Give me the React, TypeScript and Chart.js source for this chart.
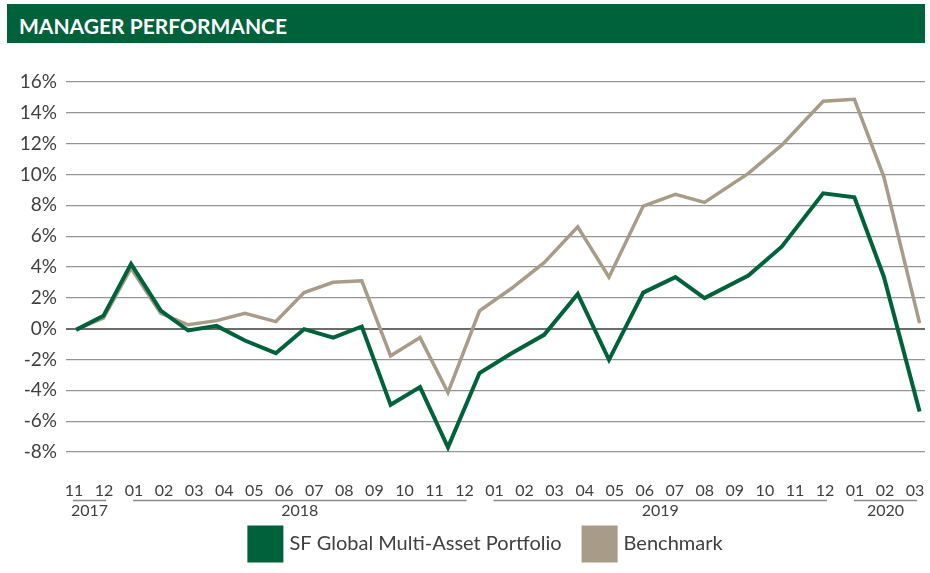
import React, { useEffect, useRef } from "react";
import { Chart, registerables } from "chart.js";

Chart.register(...registerables);

// ---- data ----
const monthLabels = [
  "11", "12",
  "01", "02", "03", "04", "05", "06", "07", "08", "09", "10", "11", "12",
  "01", "02", "03", "04", "05", "06", "07", "08", "09", "10", "11", "12",
  "01", "02", "03",
];
const yearLabels = ["2017", "2018", "2019", "2020"];
const yearFirstMonth = [0, 2, 14, 26];
const yearLastMonth = [1, 13, 25, 28];

// position of each observation on the month axis (0 = Nov 2017)
const pointMonths = [
  0.07, 0.98, 1.9, 2.89, 3.8, 4.75, 5.69, 6.72, 7.66, 8.63, 9.58, 10.54, 11.52, 12.45,
  13.5, 14.57, 15.65, 16.77, 17.81, 18.95, 20.02, 20.99, 22.45, 23.56, 24.94, 25.98, 26.96, 28.15,
];
const portfolio = [
  -0.08, 0.83, 4.2, 1.17, -0.12, 0.18, -0.77, -1.59, -0.03, -0.58, 0.14, -4.94, -3.79, -7.7,
  -2.88, -1.59, -0.4, 2.25, -2.02, 2.34, 3.34, 1.98, 3.44, 5.32, 8.78, 8.52, 3.37, -5.37,
];
const benchmark = [
  -0.05, 0.68, 3.92, 1.0, 0.25, 0.52, 1.0, 0.46, 2.34, 3.01, 3.1, -1.76, -0.58, -4.14,
  1.15, 2.62, 4.28, 6.61, 3.34, 7.95, 8.71, 8.19, 10.07, 11.9, 14.75, 14.88, 9.85, 0.36,
];
const seriesNames = ["SF Global Multi-Asset Portfolio", "Benchmark"];
const yMin = -8;
const yMax = 16;
const yStep = 2;
const chartTitle = "MANAGER PERFORMANCE";

// ---- styles ----
const GREEN = "#00623A";
const BEIGE = "#A89B87";
const TEXT = "#404040";
const GRID = "#959595";
const ZERO = "#6c6c6c";
const FONT = "Lato, 'Open Sans', sans-serif";

const decorPlugin = {
  id: "decor",
  afterDraw(chart: any) {
    const { ctx, chartArea } = chart;
    const x = chart.scales.x;
    const b = chartArea.bottom;
    ctx.save();
    ctx.fillStyle = TEXT;
    ctx.textAlign = "center";
    ctx.textBaseline = "middle";
    ctx.font = `16px ${FONT}`;
    monthLabels.forEach((m, i) => ctx.fillText(m, x.getPixelForValue(i), b + 39));
    // year groups
    ctx.strokeStyle = "#8a8a8a";
    ctx.lineWidth = 1.5;
    yearLabels.forEach((yl, k) => {
      const x0 = x.getPixelForValue(yearFirstMonth[k]) - 1;
      const x1 = x.getPixelForValue(yearLastMonth[k]) + 2;
      ctx.beginPath();
      ctx.moveTo(x0, b + 48.5);
      ctx.lineTo(x1, b + 48.5);
      ctx.stroke();
      ctx.fillText(yl, (x0 + x1) / 2, b + 59);
    });
    // legend
    ctx.font = `20px ${FONT}`;
    const boxW = 36;
    const boxH = 37;
    const gapText = 6;
    const gapItem = 20;
    const widths = chart.data.datasets.map((d: any) => ctx.measureText(d.label).width);
    let total = 0;
    widths.forEach((w: number, i: number) => {
      total += boxW + gapText + w + (i > 0 ? gapItem : 0);
    });
    let cx = 485 - total / 2;
    const cy = b + 92;
    ctx.textAlign = "left";
    chart.data.datasets.forEach((d: any, i: number) => {
      ctx.fillStyle = d.borderColor;
      ctx.fillRect(cx, cy - boxH / 2, boxW, boxH);
      ctx.fillStyle = TEXT;
      ctx.fillText(d.label, cx + boxW + gapText, cy);
      cx += boxW + gapText + widths[i] + gapItem;
    });
    ctx.restore();
  },
};

export default function App() {
  const ref = useRef<HTMLCanvasElement | null>(null);

  useEffect(() => {
    if (!ref.current) return;
    const chart = new Chart(ref.current, {
      type: "line",
      data: {
        datasets: [
          {
            label: seriesNames[0],
            data: pointMonths.map((m, i) => ({ x: m, y: portfolio[i] })),
            borderColor: GREEN,
            backgroundColor: GREEN,
            borderWidth: 4,
            pointRadius: 0,
            tension: 0,
            fill: false,
            borderJoinStyle: "miter",
          },
          {
            label: seriesNames[1],
            data: pointMonths.map((m, i) => ({ x: m, y: benchmark[i] })),
            borderColor: BEIGE,
            backgroundColor: BEIGE,
            borderWidth: 3.5,
            pointRadius: 0,
            tension: 0,
            fill: false,
            borderJoinStyle: "miter",
          },
        ],
      },
      options: {
        animation: false,
        responsive: false,
        devicePixelRatio: 1,
        layout: { padding: { left: 0, right: 5, top: 82, bottom: 121 } },
        plugins: {
          legend: { display: false },
          tooltip: { enabled: false },
        },
        scales: {
          x: {
            type: "linear",
            display: false,
            min: -0.266,
            max: 28.33,
          },
          y: {
            min: yMin,
            max: yMax,
            ticks: {
              stepSize: yStep,
              callback: (v: any) => `${v}%`,
              color: TEXT,
              font: { family: FONT, size: 19 },
              padding: 9,
            },
            grid: {
              drawTicks: false,
              color: (c: any) => (c.tick && c.tick.value === 0 ? ZERO : GRID),
              lineWidth: (c: any) => (c.tick && c.tick.value === 0 ? 2 : 1.3),
            },
            border: { display: false },
            afterFit: (s: any) => {
              s.width = 66;
            },
          },
        },
      },
      plugins: [decorPlugin],
    } as any);
    return () => chart.destroy();
  }, []);

  return (
    <>
      <canvas
        ref={ref}
        width={930}
        height={573}
        style={{ position: "absolute", left: 0, top: 0, width: 930, height: 573 }}
      />
      <div
        style={{
          position: "absolute",
          left: 7,
          top: 4,
          width: 918,
          height: 39,
          overflow: "hidden",
          background: GREEN,
          color: "#ffffff",
          fontFamily: FONT,
          fontWeight: 700,
          fontSize: 21,
          lineHeight: "44px",
          paddingLeft: 12,
          boxSizing: "border-box",
        }}
      >
        {chartTitle}
      </div>
    </>
  );
}
